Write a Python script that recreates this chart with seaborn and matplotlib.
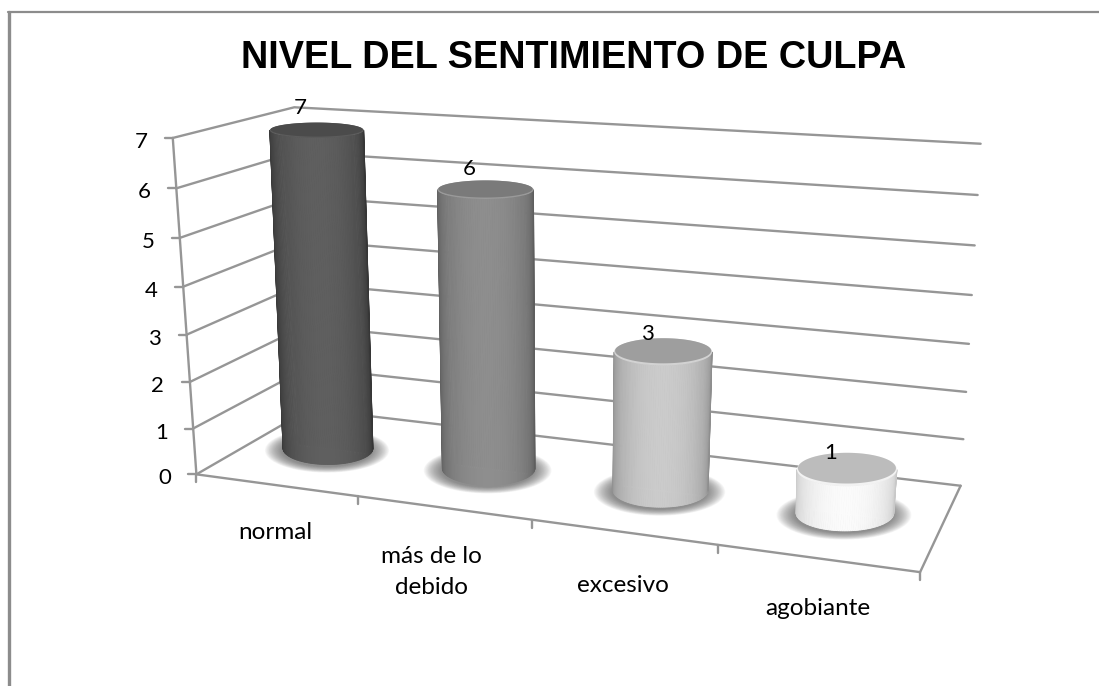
import numpy as np
import matplotlib
matplotlib.use("Agg")
import matplotlib.pyplot as plt
from matplotlib.transforms import Transform, IdentityTransform
import pandas as pd
import seaborn as sns

# The chart's data
categories = ["normal", "más de lo\ndebido", "excesivo", "agobiante"]
values = [7, 6, 3, 1]
y_ticks = [0, 1, 2, 3, 4, 5, 6, 7]
title = "NIVEL DEL SENTIMIENTO DE CULPA"

# Grey shades for each cylinder
edge_colors = ["#353535", "#5c5c5c", "#8c8c8c", "#c6c6c6"]
center_colors = ["#5f5f5f", "#8e8e8e", "#cbcbcb", "#fbfbfb"]
top_colors = ["#4b4b4b", "#7a7a7a", "#9e9e9e", "#bcbcbc"]
rim_colors = ["#5c5c5c", "#9a9a9a", "#d2d2d2", "#f2f2f2"]

W, H = 1099, 686
GRID = "#969696"

# Perspective of the box: (category, depth, value) -> picture pixel
box_3d = [(-0.5, 0, 0), (-0.5, 0, 7), (-0.5, 1, 7), (-0.5, 1, 0), (3.5, 1, 0),
          (3.5, 1, 7), (3.5, 0, 0), (0.5, 0, 0), (1.5, 0, 0)]
box_px = [(195, 475), (175, 138), (292, 107), (312, 408), (960, 487),
          (981, 144), (921, 570), (357, 497), (531, 520)]

rows, rhs = [], []
for (a, b, c), (u, v) in zip(box_3d, box_px):
    rows.append([a, b, c, 1, 0, 0, 0, 0, -u * a, -u * b, -u * c])
    rows.append([0, 0, 0, 0, a, b, c, 1, -v * a, -v * b, -v * c])
    rhs += [u, v]
P = np.append(np.linalg.lstsq(np.array(rows, float), np.array(rhs, float), rcond=None)[0], 1).reshape(3, 4)


def project(x, d, v):
    x, d, v = np.broadcast_arrays(np.asarray(x, float), np.asarray(d, float), np.asarray(v, float))
    pts = np.stack([x, d, v, np.ones_like(x)], axis=-1) @ P.T
    return pts[..., 0] / pts[..., 2], H - pts[..., 1] / pts[..., 2]


class MidDepth(Transform):
    # puts the seaborn bars on the middle of the floor
    input_dims = 2
    output_dims = 2

    def transform_non_affine(self, values):
        values = np.asarray(values)
        return np.column_stack(project(values[:, 0], 0.5, values[:, 1]))


def flat_ry(c, v):
    # how open a disc looks at this height: the depth run minus the gridline slope
    x0, y0 = project(c, 0.25, v)
    x1, y1 = project(c, 0.75, v)
    xa, ya = project(c - 0.5, 0.5, v)
    xb, yb = project(c + 0.5, 0.5, v)
    return 0.4 * abs((y1 - y0) - (yb - ya) / (xb - xa) * (x1 - x0))


px = IdentityTransform()
sns.set_theme(style="white")
plt.rcParams["font.family"] = ["Lato", "DejaVu Sans"]

fig = plt.figure(figsize=(W / 100, H / 100), dpi=100, facecolor="white")
ax = fig.add_axes([0, 0, 1, 1])

df = pd.DataFrame({"categoria": categories, "valor": values})
sns.barplot(data=df, x="categoria", y="valor", hue="categoria", palette=edge_colors,
            width=0.44, legend=False, saturation=1, ax=ax)
ax.set_axis_off()


def line3d(x, d, v, lw=1.7, color=GRID, z=1):
    xs, ys = project(x, d, v)
    ax.plot(xs, ys, transform=px, color=color, lw=lw, clip_on=False, zorder=z, solid_capstyle="round")


# Outer frame of the picture
ax.plot([9, 9], [0, H - 12], transform=px, color="#8c8c8c", lw=2.4, clip_on=False)
ax.plot([8, W], [H - 12, H - 12], transform=px, color="#8c8c8c", lw=1.6, clip_on=False)

# Walls and floor
for t in y_ticks:
    line3d([-0.5, -0.5, 3.5], [0, 1, 1], [t, t, t])
    xt, yt = project(-0.5, 0, t)
    ax.plot([xt - 8, xt], [yt, yt], transform=px, color=GRID, lw=1.7, clip_on=False)
    ax.text(xt - 32, yt - 4, str(t), transform=px, ha="center", va="center", fontsize=16, color="black")
line3d([-0.5, -0.5], [0, 0], [0, 7])
line3d([-0.5, 3.5, 3.5], [0, 0, 1], [0, 0, 0])

# Category ticks and labels along the front of the floor
label_dx = [0, -12, 0, 1]
label_dy = [-37, -38, -43, -40]
for i, name in enumerate(categories):
    xt, yt = project(i + 0.5, 0, 0)
    ax.plot([xt, xt], [yt, yt - 8], transform=px, color=GRID, lw=1.7, clip_on=False)
    xm, ym = project(i, 0, 0)
    ax.text(xm + label_dx[i], ym + label_dy[i], name, transform=px, ha="center", va="top",
            fontsize=17.5, color="black", linespacing=1.6)
xt, yt = project(-0.5, 0, 0)
ax.plot([xt, xt], [yt, yt - 8], transform=px, color=GRID, lw=1.7, clip_on=False)

# Turn each seaborn bar into a cylinder
theta = np.linspace(0, 2 * np.pi, 121)
front = np.linspace(np.pi, 2 * np.pi, 71)
for i, bar in enumerate(ax.patches):
    bar.set_transform(MidDepth())
    bar.set_clip_on(False)
    bar.set_zorder(3 + i)
    c = bar.get_x() + bar.get_width() / 2
    top = bar.get_height()
    z = 3.1 + i

    # centre and radii of the bottom and top discs, in pixels
    xb, yb = project(c, 0.5, 0)
    xb = xb - 4 + 1.3 * i
    yb = yb + 1
    xt, yt = project(c, 0.5, top)
    yt = yt - 4
    rb, rt = 45 + 1.3 * i, 47 + i
    ryb, ryt = flat_ry(c, 0), flat_ry(c, top)

    # soft shadow on the floor
    for s in np.linspace(1.38, 1.0, 22):
        ax.fill(xb - 1 + s * rb * np.cos(theta), yb - 2 + s * ryb * np.sin(theta), transform=px,
                color="#555555", alpha=0.045, lw=0, clip_on=False, zorder=2)

    # body, as thin vertical strips
    e = np.array(matplotlib.colors.to_rgb(edge_colors[i]))
    m = np.array(matplotlib.colors.to_rgb(center_colors[i]))
    for a0, a1 in zip(front[:-1], front[1:]):
        shade = np.abs(np.sin((a0 + a1) / 2)) ** 0.9
        xs = [xb + rb * np.cos(a0), xb + rb * np.cos(a1), xt + rt * np.cos(a1), xt + rt * np.cos(a0)]
        ys = [yb + ryb * np.sin(a0), yb + ryb * np.sin(a1), yt + ryt * np.sin(a1), yt + ryt * np.sin(a0)]
        ax.fill(xs, ys, transform=px, color=e + (m - e) * shade, lw=0.6, clip_on=False, zorder=z)

    # lid with a lighter rim at the front
    ax.fill(xt + rt * np.cos(theta), yt + ryt * np.sin(theta), transform=px,
            color=rim_colors[i], lw=0, clip_on=False, zorder=z + 0.1)
    ax.fill(xt + 0.98 * rt * np.cos(theta), yt + 0.08 * ryt + 0.92 * ryt * np.sin(theta), transform=px,
            color=top_colors[i], lw=0, clip_on=False, zorder=z + 0.2)

    # value above the cylinder
    xl, yl = project(c, 0.5, top)
    ax.text(xl - 16, yl + 11 + top, str(values[i]), transform=px, ha="center", va="center",
            fontsize=16, color="black", zorder=20)

fig.text(574 / W, 1 - 58 / H, title, ha="center", va="center", fontsize=27.3,
         fontweight="bold", family="Liberation Sans", color="black")

fig.savefig("out.png", dpi=100, facecolor="white")
